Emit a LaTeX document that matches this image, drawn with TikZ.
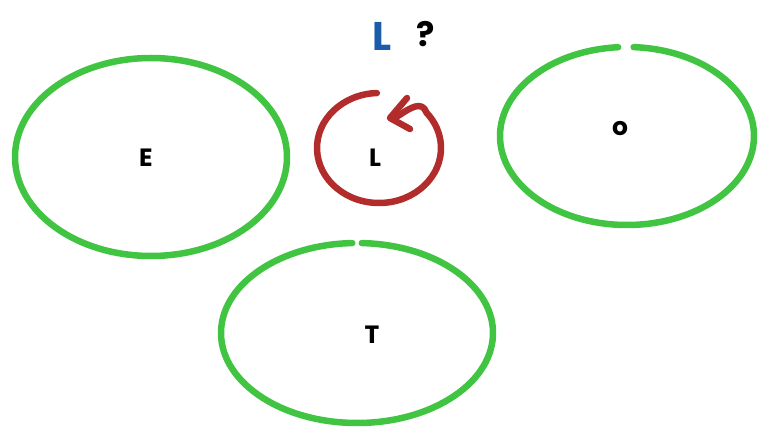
\documentclass[tikz,border=0pt]{standalone}
\usepackage{fontspec}
\setmainfont{Poppins}
\definecolor{hgreen}{RGB}{64,196,66}
\definecolor{hred}{RGB}{178,44,44}
\definecolor{hblue}{RGB}{24,92,170}
\begin{document}
\begin{tikzpicture}[x=1pt,y=-1pt,
  greenloop/.style={draw=hgreen,line width=6.5pt,line cap=round},
  redloop/.style={draw=hred,line width=6.5pt,line cap=round,line join=round},
  lbl/.style={font=\bfseries\fontsize{25}{25}\selectfont,inner sep=0pt}]
\useasboundingbox (0,0) rectangle (758,435);
% E
\draw[greenloop] (151,157) ellipse [x radius=136, y radius=99];
\node[lbl] (e) at (146,158) {E};
% O
\draw[greenloop] (627,136) ++(-87:127 and 89) arc[start angle=-87,end angle=266,x radius=127,y radius=89];
\node[lbl] (o) at (620,129) {o};
% T
\draw[greenloop] (357,333) ++(-88:136 and 90) arc[start angle=-88,end angle=268,x radius=136,y radius=90];
\node[lbl] (t) at (372,335) {T};
% red loop
\draw[redloop] (379,148) ++(-92:62 and 55) arc[start angle=-92,end angle=-400,x radius=62,y radius=55]
  .. controls (422,100) and (410,108) .. (398,116);
\draw[redloop] (407,98) -- (390,118) -- (410,129);
\node[lbl] (l) at (375,158) {L};
% top labels
\node[lbl,text=hblue,font=\bfseries\fontsize{40}{40}\selectfont] (lq) at (382,36) {L};
\node[lbl,font=\bfseries\fontsize{34}{34}\selectfont] (q) at (426,34) {?};
\end{tikzpicture}
\end{document}
